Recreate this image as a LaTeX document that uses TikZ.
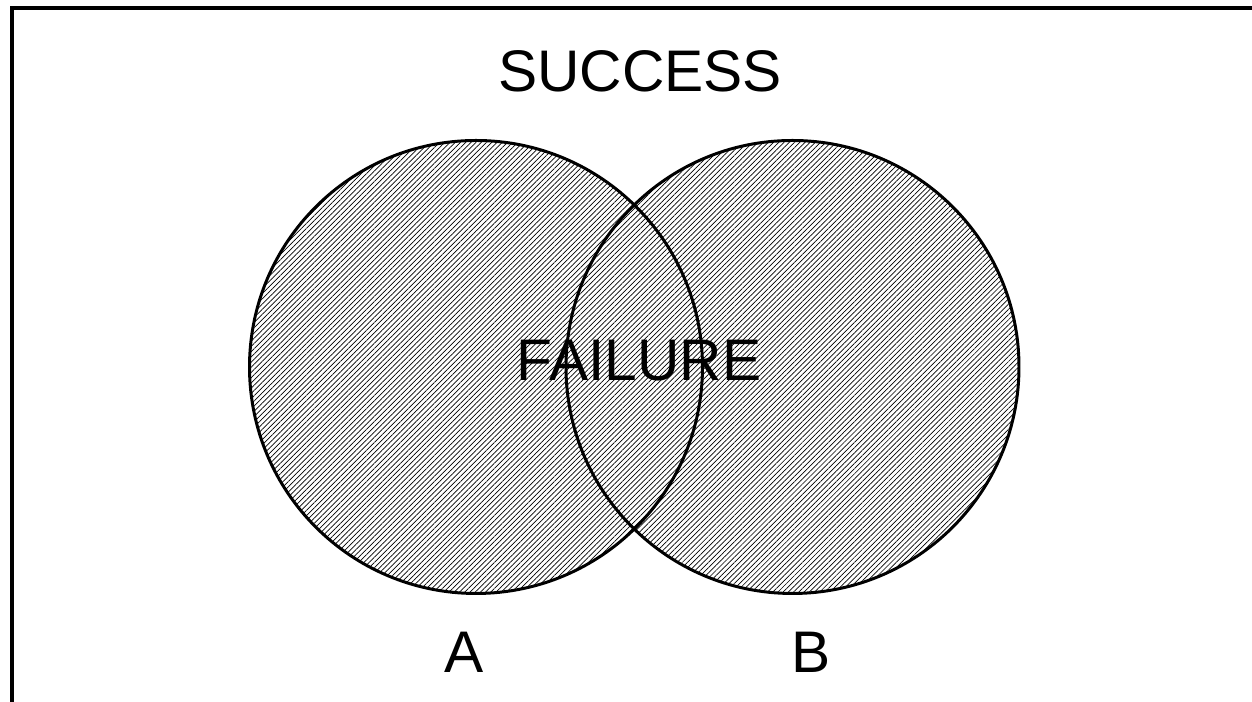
\documentclass[tikz,border=0pt]{standalone}
\usepackage{fontspec}
\setmainfont{Liberation Sans}
\usetikzlibrary{patterns.meta}

\tikzset{
  venn/.style={circle, draw, line width=0.85pt, inner sep=0pt, minimum size=4.53cm},
  hatch/.style={pattern={Lines[angle=45, distance=1.05pt, line width=0.2pt]}},
  lbl/.style={inner sep=0pt, font=\fontsize{16.7}{20}\selectfont}
}

\begin{document}
\begin{tikzpicture}
      \useasboundingbox (0,0) rectangle (12.52,7.02);
      % frame
      \coordinate (fbl) at (0.12,-0.1);
      \coordinate (ftl) at (0.12,6.94);
      \coordinate (ftr) at (12.7,6.94);
      \draw[line width=1.1pt] (fbl) -- (ftl) -- (ftr);
      % hatched union of the two sets
      \fill[hatch] (4.76,3.35) circle (2.265) (7.925,3.35) circle (2.265);
      % sets
      \node[venn] (circA) at (4.76,3.35) {};
      \node[venn] (circB) at (7.925,3.35) {};
      % labels
      \node[lbl] (success) at (6.40,6.31) {SUCCESS};
      \node[lbl] (failure) at (6.39,3.41) {FAILURE};
      \node[lbl] (labA) at (4.64,0.50) {A};
      \node[lbl] (labB) at (8.11,0.50) {B};
\end{tikzpicture}
\end{document}
